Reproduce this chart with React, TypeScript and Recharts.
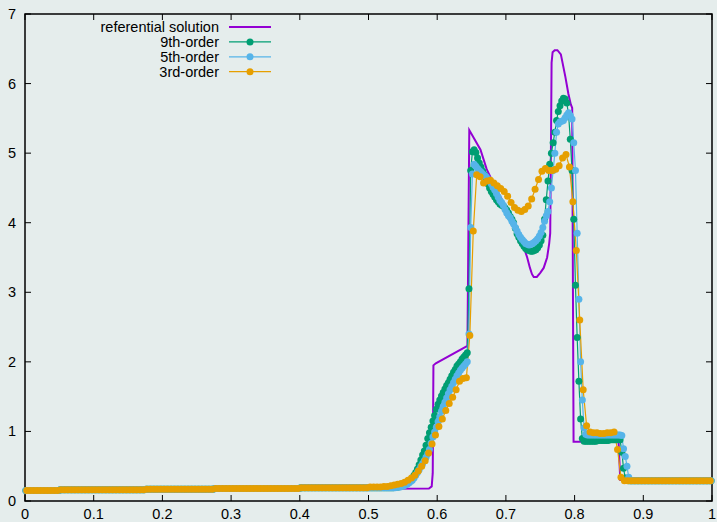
import React from 'react';
import { LineChart, Line, XAxis, YAxis, ReferenceArea } from 'recharts';

// cell-centred meshes: 400 cells for the high order runs, 200 for 3rd order
const cells400 = Array.from({ length: 400 }, (_, j) => (j + 0.5) / 400);
const cells200 = Array.from({ length: 200 }, (_, i) => (i + 0.5) / 200);

// undisturbed gas left of the blast, x < 0.53 (400-cell mesh)
const quiet400 = [
  0.15, 0.15, 0.15, 0.15, 0.15, 0.15, 0.15, 0.15, 0.15, 0.15,
  0.15, 0.15, 0.15, 0.15, 0.15, 0.15, 0.15, 0.15, 0.15, 0.15,
  0.16, 0.16, 0.16, 0.16, 0.16, 0.16, 0.16, 0.16, 0.16, 0.16,
  0.16, 0.16, 0.16, 0.16, 0.16, 0.16, 0.16, 0.16, 0.16, 0.16,
  0.16, 0.16, 0.16, 0.16, 0.16, 0.16, 0.16, 0.16, 0.16, 0.16,
  0.16, 0.16, 0.16, 0.16, 0.16, 0.16, 0.16, 0.16, 0.16, 0.16,
  0.16, 0.16, 0.16, 0.16, 0.16, 0.16, 0.16, 0.16, 0.16, 0.16,
  0.17, 0.17, 0.17, 0.17, 0.17, 0.17, 0.17, 0.17, 0.17, 0.17,
  0.17, 0.17, 0.17, 0.17, 0.17, 0.17, 0.17, 0.17, 0.17, 0.17,
  0.17, 0.17, 0.17, 0.17, 0.17, 0.17, 0.17, 0.17, 0.17, 0.17,
  0.17, 0.17, 0.17, 0.17, 0.17, 0.17, 0.17, 0.17, 0.17, 0.17,
  0.18, 0.18, 0.18, 0.18, 0.18, 0.18, 0.18, 0.18, 0.18, 0.18,
  0.18, 0.18, 0.18, 0.18, 0.18, 0.18, 0.18, 0.18, 0.18, 0.18,
  0.18, 0.18, 0.18, 0.18, 0.18, 0.18, 0.18, 0.18, 0.18, 0.18,
  0.18, 0.18, 0.18, 0.18, 0.18, 0.18, 0.18, 0.18, 0.18, 0.18,
  0.18, 0.18, 0.18, 0.18, 0.18, 0.18, 0.18, 0.18, 0.18, 0.18,
  0.19, 0.19, 0.19, 0.19, 0.19, 0.19, 0.19, 0.19, 0.19, 0.19,
  0.19, 0.19, 0.19, 0.19, 0.19, 0.19, 0.19, 0.19, 0.19, 0.19,
  0.19, 0.19, 0.19, 0.19, 0.19, 0.19, 0.19, 0.19, 0.19, 0.19,
  0.19, 0.19, 0.19, 0.19, 0.19, 0.19, 0.19, 0.19, 0.19, 0.19,
  0.19, 0.19, 0.19, 0.19, 0.19, 0.19, 0.19, 0.19, 0.19, 0.19,
  0.19, 0.19,
];

// pre-shock state right of x = 0.88 (400-cell mesh)
const tail400 = [
  0.29, 0.29, 0.29, 0.29, 0.29, 0.29, 0.29, 0.29, 0.29, 0.29, 0.29, 0.29,
  0.29, 0.29, 0.29, 0.29, 0.29, 0.29, 0.29, 0.29, 0.29, 0.29, 0.29, 0.29,
  0.29, 0.29, 0.29, 0.29, 0.29, 0.29, 0.29, 0.29, 0.29, 0.29, 0.29, 0.29,
  0.29, 0.29, 0.29, 0.29, 0.29, 0.29, 0.29, 0.29, 0.29, 0.29, 0.29, 0.29,
];

// 9th-order, cells 212..351
const order9Blast = [
  0.19, 0.19, 0.19, 0.2, 0.2, 0.2, 0.21, 0.22, 0.23, 0.24,
  0.26, 0.27, 0.29, 0.33, 0.37, 0.41, 0.46, 0.52, 0.59, 0.66,
  0.72, 0.8, 0.9, 0.98, 1.06, 1.15, 1.23, 1.32, 1.39, 1.45,
  1.51, 1.56, 1.61, 1.66, 1.7, 1.75, 1.8, 1.85, 1.89, 1.94,
  1.97, 2.0, 2.04, 2.07, 2.1, 2.13, 3.05, 4.75, 5.02, 5.05,
  5.01, 4.93, 4.86, 4.8, 4.74, 4.69, 4.63, 4.56, 4.5, 4.45,
  4.41, 4.37, 4.33, 4.3, 4.27, 4.25, 4.24, 4.21, 4.18, 4.14,
  4.09, 4.05, 4.0, 3.92, 3.84, 3.79, 3.74, 3.7, 3.66, 3.63,
  3.61, 3.6, 3.59, 3.59, 3.6, 3.61, 3.64, 3.68, 3.74, 3.82,
  4.05, 4.33, 4.6, 4.84, 5.0, 5.15, 5.3, 5.47, 5.6, 5.68,
  5.75, 5.79, 5.78, 5.72, 5.55, 5.2, 4.75, 4.05, 3.1, 2.35,
  1.72, 1.18, 0.9, 0.86, 0.86, 0.86, 0.86, 0.86, 0.86, 0.86,
  0.86, 0.87, 0.87, 0.87, 0.87, 0.87, 0.87, 0.87, 0.88, 0.88,
  0.88, 0.88, 0.88, 0.88, 0.88, 0.7, 0.47, 0.33, 0.3, 0.29,
];

// 5th-order, cells 212..351
const order5Blast = [
  0.19, 0.19, 0.19, 0.19, 0.2, 0.2, 0.2, 0.21, 0.22, 0.23,
  0.24, 0.26, 0.28, 0.3, 0.33, 0.37, 0.41, 0.45, 0.5, 0.54,
  0.58, 0.63, 0.68, 0.74, 0.83, 0.92, 0.99, 1.06, 1.14, 1.21,
  1.29, 1.36, 1.42, 1.48, 1.54, 1.6, 1.65, 1.7, 1.75, 1.8,
  1.84, 1.88, 1.91, 1.94, 1.97, 2.0, 2.4, 3.93, 4.7, 4.84,
  4.81, 4.78, 4.75, 4.73, 4.7, 4.68, 4.66, 4.63, 4.61, 4.56,
  4.51, 4.47, 4.42, 4.37, 4.32, 4.29, 4.25, 4.19, 4.14, 4.1,
  4.07, 4.02, 3.98, 3.93, 3.88, 3.83, 3.79, 3.76, 3.73, 3.7,
  3.69, 3.68, 3.69, 3.7, 3.72, 3.74, 3.77, 3.81, 3.86, 3.93,
  4.02, 4.1, 4.16, 4.3, 4.5, 4.75, 5.0, 5.3, 5.42, 5.45,
  5.46, 5.47, 5.51, 5.55, 5.58, 5.54, 5.49, 5.15, 4.75, 3.85,
  2.9, 2.0, 1.45, 1.05, 0.96, 0.95, 0.95, 0.95, 0.95, 0.95,
  0.95, 0.95, 0.95, 0.95, 0.95, 0.95, 0.95, 0.95, 0.95, 0.95,
  0.95, 0.95, 0.95, 0.95, 0.95, 0.94, 0.75, 0.64, 0.5, 0.34,
];

// 3rd-order on the 200-cell mesh: cells 0..99, 100..173, 174..199
const quiet200 = [
  0.15, 0.15, 0.15, 0.15, 0.15, 0.15, 0.15, 0.15, 0.15, 0.15,
  0.16, 0.16, 0.16, 0.16, 0.16, 0.16, 0.16, 0.16, 0.16, 0.16,
  0.16, 0.16, 0.16, 0.16, 0.16, 0.16, 0.16, 0.16, 0.16, 0.16,
  0.16, 0.16, 0.16, 0.16, 0.16,
  0.17, 0.17, 0.17, 0.17, 0.17, 0.17, 0.17, 0.17, 0.17, 0.17,
  0.17, 0.17, 0.17, 0.17, 0.17, 0.17, 0.17, 0.17, 0.17, 0.17,
  0.18, 0.18, 0.18, 0.18, 0.18, 0.18, 0.18, 0.18, 0.18, 0.18,
  0.18, 0.18, 0.18, 0.18, 0.18, 0.18, 0.18, 0.18, 0.18, 0.18,
  0.18, 0.18, 0.18, 0.18, 0.18,
  0.19, 0.19, 0.19, 0.19, 0.19, 0.19, 0.19, 0.19, 0.19, 0.19,
  0.19, 0.19, 0.19, 0.19, 0.19, 0.19, 0.19, 0.19, 0.19, 0.19,
];

const order3Blast = [
  0.2, 0.2, 0.2, 0.2, 0.21, 0.21, 0.22, 0.23, 0.24, 0.25,
  0.27, 0.3, 0.33, 0.37, 0.43, 0.5, 0.58, 0.69, 0.82, 0.95,
  1.07, 1.18, 1.3, 1.4, 1.49, 1.6, 1.72, 1.76, 1.77, 2.38,
  3.88, 4.69, 4.66, 4.57, 4.6, 4.61, 4.57, 4.53, 4.49, 4.45,
  4.38, 4.29, 4.22, 4.18, 4.16, 4.19, 4.24, 4.34, 4.48, 4.62,
  4.74, 4.78, 4.75, 4.75, 4.77, 4.82, 4.93, 4.98, 4.8, 4.3,
  3.6, 2.6, 1.6, 1.08, 0.99, 0.98, 0.98, 0.97, 0.97, 0.98,
  0.98, 0.99, 0.74, 0.34,
];

const tail200 = [
  0.29, 0.29, 0.29, 0.29, 0.29, 0.29, 0.29, 0.29, 0.29, 0.29, 0.29, 0.29, 0.29,
  0.29, 0.29, 0.29, 0.29, 0.29, 0.29, 0.29, 0.29, 0.29, 0.29, 0.29, 0.29, 0.29,
];

// reference solution, polyline vertices
const refX = [
  0, 0.3, 0.5, 0.588, 0.592, 0.5935, 0.5945, 0.598, 0.644, 0.6467,
  0.6485, 0.656, 0.663, 0.672, 0.685, 0.7, 0.715, 0.725, 0.731, 0.735,
  0.738, 0.7405, 0.745, 0.75, 0.755, 0.76, 0.763, 0.7645, 0.7655, 0.7665,
  0.768, 0.771, 0.775, 0.78, 0.7865, 0.791, 0.7945, 0.7965, 0.7985, 0.864,
  0.8665, 1,
];
const refY = [
  0.15, 0.165, 0.175, 0.18, 0.21, 0.4, 1.95, 1.98, 2.23, 5.33,
  5.3, 5.17, 5.05, 4.77, 4.5, 4.23, 3.92, 3.68, 3.5, 3.35,
  3.26, 3.22, 3.22, 3.28, 3.35, 3.5, 3.7, 3.85, 5.0, 6.3,
  6.45, 6.48, 6.48, 6.42, 6.1, 5.85, 5.7, 5.65, 0.85, 0.85,
  0.3, 0.29,
];

const xTicks = [0, 0.1, 0.2, 0.3, 0.4, 0.5, 0.6, 0.7, 0.8, 0.9, 1];
const yTicks = [0, 1, 2, 3, 4, 5, 6, 7];

const toPoints = (xs: number[], ys: number[]) => ys.map((y, k) => ({ x: xs[k], y }));

const series = [
  { name: '9th-order', color: '#009e73', data: toPoints(cells400, [...quiet400, ...order9Blast, ...tail400]) },
  { name: '5th-order', color: '#56b4e9', data: toPoints(cells400, [...quiet400, ...order5Blast, ...tail400]) },
  { name: '3rd-order', color: '#e69f00', data: toPoints(cells200, [...quiet200, ...order3Blast, ...tail200]) },
];
const reference = { name: 'referential solution', color: '#9400d3', data: toPoints(refX, refY) };

const W = 717;
const H = 522;
const TOP = 14;
const LEFT = 25;
const RIGHT = 712;
const BOTTOM = 501;
const TICK = 6;
const DOT_R = 3.5;
const FONT = '"Liberation Sans", Arial, Helvetica, sans-serif';
const BG = '#e5edec';

const XTick = (props: any) => {
  const { x, y, payload } = props;
  return (
    <g>
      <line x1={x} y1={y} x2={x} y2={y - TICK} stroke="#000" strokeWidth={1} />
      <line x1={x} y1={TOP} x2={x} y2={TOP + TICK} stroke="#000" strokeWidth={1} />
      <text x={x} y={y + 18} textAnchor="middle" fontFamily={FONT} fontSize={14.5} fill="#000">
        {String(payload.value)}
      </text>
    </g>
  );
};

const YTick = (props: any) => {
  const { x, y, payload } = props;
  return (
    <g>
      <line x1={x} y1={y} x2={x + TICK} y2={y} stroke="#000" strokeWidth={1} />
      <line x1={RIGHT} y1={y} x2={RIGHT - TICK} y2={y} stroke="#000" strokeWidth={1} />
      <text x={x - 9} y={y + 5} textAnchor="end" fontFamily={FONT} fontSize={14.5} fill="#000">
        {String(payload.value)}
      </text>
    </g>
  );
};

const KeyBox = () => {
  const rows = [reference, ...series];
  return (
    <svg width={300} height={90} style={{ position: 'absolute', left: 0, top: 0, pointerEvents: 'none' }}>
      {rows.map((s, k) => {
        const cy = 27 + k * 14.9;
        const isRef = k === 0;
        return (
          <g key={s.name}>
            <text x={219} y={cy + 5} textAnchor="end" fontFamily={FONT} fontSize={14.5} fill="#000">
              {s.name}
            </text>
            <line x1={229} y1={cy} x2={271} y2={cy} stroke={s.color} strokeWidth={isRef ? 2 : 1.2} />
            {!isRef && <circle cx={250} cy={cy} r={DOT_R} fill={s.color} />}
          </g>
        );
      })}
    </svg>
  );
};

export default function App() {
  return (
    <div style={{ position: 'absolute', left: 0, top: 0, width: W, height: H, background: BG }}>
      <LineChart width={W} height={H} margin={{ top: TOP, right: W - RIGHT, bottom: 0, left: 0 }}>
        <XAxis
          type="number"
          dataKey="x"
          domain={[0, 1]}
          ticks={xTicks}
          interval={0}
          height={H - BOTTOM}
          axisLine={false}
          tickLine={false}
          tickSize={0}
          tickMargin={0}
          tick={(p: any) => <XTick {...p} />}
        />
        <YAxis
          type="number"
          dataKey="y"
          domain={[0, 7]}
          ticks={yTicks}
          interval={0}
          width={LEFT}
          axisLine={false}
          tickLine={false}
          tickSize={0}
          tickMargin={0}
          tick={(p: any) => <YTick {...p} />}
        />
        <Line
          data={reference.data}
          dataKey="y"
          type="linear"
          stroke={reference.color}
          strokeWidth={2}
          dot={false}
          activeDot={false}
          isAnimationActive={false}
        />
        {series.map((s) => (
          <Line
            key={s.name}
            data={s.data}
            dataKey="y"
            type="linear"
            stroke={s.color}
            strokeWidth={1.2}
            dot={{ r: DOT_R, fill: s.color, stroke: 'none' }}
            activeDot={false}
            isAnimationActive={false}
          />
        ))}
        <ReferenceArea x1={0} x2={1} y1={0} y2={7} fill="none" stroke="#000" strokeWidth={1.5} ifOverflow="visible" />
      </LineChart>
      <KeyBox />
    </div>
  );
}
